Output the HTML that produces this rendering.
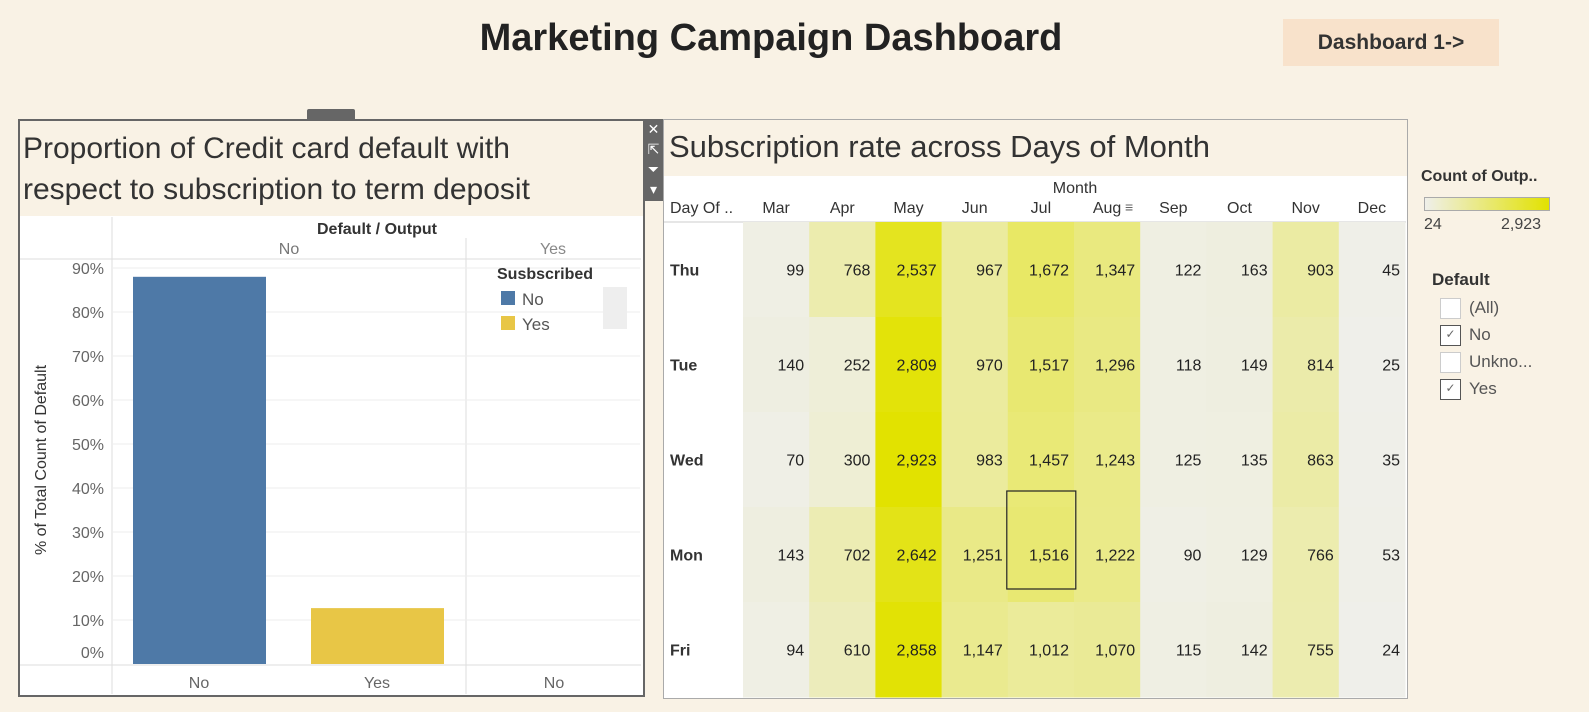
<!DOCTYPE html>
<html><head><meta charset="utf-8"><style>
body{margin:0;width:1589px;height:712px;background:#f9f2e5;font-family:"Liberation Sans",sans-serif;position:relative;overflow:hidden;color:#333}
.abs{position:absolute}
</style></head><body>
<div class="abs" style="left:0;width:1542px;top:17px;text-align:center;font-size:38px;font-weight:bold;color:#222">Marketing Campaign Dashboard</div>
<div class="abs" style="left:1283px;top:19px;width:216px;height:47px;background:#f8e2cb;font-size:21px;font-weight:bold;line-height:47px;text-align:center;color:#333">Dashboard 1-&gt;</div>

<div class="abs" style="left:307px;top:109px;width:48px;height:11px;background:#666;border-radius:2px 2px 0 0"></div>
<div class="abs" style="left:18px;top:119px;width:623px;height:574px;border:2px solid #666;background:#fff"></div>
<div class="abs" style="left:20px;top:121px;width:623px;height:95px;background:#f9f2e5;"></div>
<div class="abs" style="left:23px;top:128px;width:570px;font-size:30px;line-height:41px;color:#333">Proportion of Credit card default with respect to subscription to term deposit</div>
<div class="abs" style="left:643px;top:119px;width:21px;height:82px;background:#666;color:#fff;font-size:14px;text-align:center;line-height:20px">✕<br>⇱<br>⏷<br>▾</div>
<svg class="abs" style="left:0;top:0" width="1589" height="712" id="bar-svg"></svg>

<div class="abs" style="left:663px;top:119px;width:743px;height:578px;border:1px solid #aaa;background:#fff"></div>
<div class="abs" style="left:664px;top:120px;width:743px;height:56px;background:#f9f2e5;font-size:31px;padding:9px 0 0 5px;box-sizing:border-box;color:#333;white-space:nowrap">Subscription rate across Days of Month</div>
<svg class="abs" style="left:0;top:0" width="1589" height="712" id="heat-svg"></svg>

<div class="abs" style="left:1421px;top:168px;font-size:16px;font-weight:bold;color:#333">Count of Outp..</div>
<div class="abs" style="left:1424px;top:197px;width:124px;height:12px;border:1px solid #aaa;background:linear-gradient(to right,#efefea,#e2e200)"></div>
<div class="abs" style="left:1424px;top:216px;font-size:16px;color:#444">24</div>
<div class="abs" style="left:1501px;top:216px;font-size:16px;color:#444">2,923</div>
<div class="abs" style="left:1432px;top:270px;font-size:17px;font-weight:bold;color:#333">Default</div>
<div id="filters"></div>

<script>
// ---- bar chart data ----
const barCats=["No","Yes"];
const barVals=[88,12.7];
const barColors=["#4e79a7","#e8c646"];
const yTicks=[0,10,20,30,40,50,60,70,80,90];
const NS="http://www.w3.org/2000/svg";
function mk(svg,tag,attrs,text){const e=document.createElementNS(NS,tag);for(const k in attrs)e.setAttribute(k,attrs[k]);if(text!==undefined)e.textContent=text;svg.appendChild(e);return e;}
const bs=document.getElementById('bar-svg');
const base=664, pxPer=4.4;
function yS(v){return base-v*pxPer;}
mk(bs,'line',{x1:112,y1:217,x2:112,y2:694,stroke:'#ddd'});
mk(bs,'line',{x1:466,y1:238,x2:466,y2:694,stroke:'#ddd'});
mk(bs,'line',{x1:20,y1:259,x2:641,y2:259,stroke:'#ddd'});
mk(bs,'line',{x1:20,y1:665,x2:641,y2:665,stroke:'#ddd'});
let t=mk(bs,'text',{x:377,y:234,'text-anchor':'middle','font-size':16,'font-weight':'bold',fill:'#333','font-family':'Liberation Sans'},'Default / Output');

t=mk(bs,'text',{x:289,y:254,'text-anchor':'middle','font-size':16,fill:'#777','font-family':'Liberation Sans'},'No');

t=mk(bs,'text',{x:553,y:254,'text-anchor':'middle','font-size':16,fill:'#888','font-family':'Liberation Sans'},'Yes');

yTicks.forEach(v=>{
  const y=yS(v);
  if(v>0){const g=mk(bs,'line',{x1:113,x2:640,y1:y,y2:y,stroke:'#eee'});}
  const ly=v===0?658:y+6;
  const l=mk(bs,'text',{x:104,y:ly,'text-anchor':'end','font-size':16,fill:'#666','font-family':'Liberation Sans'},v+'%');
  
  
});
t=mk(bs,'text',{x:46,y:460,'text-anchor':'middle','font-size':16,fill:'#333','font-family':'Liberation Sans',transform:'rotate(-90 46 460)'},'% of Total Count of Default');

const barX=[133,311];
barCats.forEach((c,i)=>{
  const r=mk(bs,'rect',{x:barX[i],y:yS(barVals[i]),width:133,height:barVals[i]*pxPer,fill:barColors[i]});
  
  
  const l=mk(bs,'text',{x:barX[i]+66,y:688,'text-anchor':'middle','font-size':16,fill:'#666','font-family':'Liberation Sans'},c);
  
  
});
t=mk(bs,'text',{x:554,y:688,'text-anchor':'middle','font-size':16,fill:'#666','font-family':'Liberation Sans'},'No');

t=mk(bs,'text',{x:497,y:279,'font-size':16,'font-weight':'bold',fill:'#333','font-family':'Liberation Sans'},'Susbscribed');

barCats.forEach((c,i)=>{
  const r=mk(bs,'rect',{x:501,y:291+i*25,width:14,height:14,fill:barColors[i]});
  
  
  const l=mk(bs,'text',{x:522,y:305+i*25,'font-size':17,fill:'#555','font-family':'Liberation Sans'},c);
  
  
});
mk(bs,'rect',{x:603,y:287,width:24,height:42,fill:'#eee'});

// ---- heatmap data ----
const months=["Mar","Apr","May","Jun","Jul","Aug","Sep","Oct","Nov","Dec"];
const days=["Thu","Tue","Wed","Mon","Fri"];
const rowThu=[99,768,2537,967,1672,1347,122,163,903,45];
const rowTue=[140,252,2809,970,1517,1296,118,149,814,25];
const rowWed=[70,300,2923,983,1457,1243,125,135,863,35];
const rowMon=[143,702,2642,1251,1516,1222,90,129,766,53];
const rowFri=[94,610,2858,1147,1012,1070,115,142,755,24];
const rows=[rowThu,rowTue,rowWed,rowMon,rowFri];
const hs=document.getElementById('heat-svg');
const x0=743,cw=66.2,y0=222,rh=95,vmin=24,vmax=2923;
function col(v){const f=(v-vmin)/(vmax-vmin);const lo=[239,239,234],hi=[226,226,0];
 return 'rgb('+lo.map((a,i)=>Math.round(a+(hi[i]-a)*f)).join(',')+')';}
function fmt(v){return v.toLocaleString('en-US');}
mk(hs,'line',{x1:664,x2:1406,y1:y0,y2:y0,stroke:'#ccc'});
t=mk(hs,'text',{x:1075,y:193,'text-anchor':'middle','font-size':16,fill:'#333','font-family':'Liberation Sans'},'Month');

t=mk(hs,'text',{x:670,y:213,'font-size':16,fill:'#333','font-family':'Liberation Sans'},'Day Of ..');

t=mk(hs,'text',{x:1125,y:212,'font-size':14,fill:'#666','font-family':'Liberation Sans'},'≡');

months.forEach((m,j)=>{
  const l=mk(hs,'text',{x:x0+cw*j+cw/2,y:213,'text-anchor':'middle','font-size':16,fill:'#333','font-family':'Liberation Sans'},m);
  
  
});
days.forEach((d,i)=>{
  const l=mk(hs,'text',{x:670,y:y0+rh*i+rh/2+6,'font-size':16,'font-weight':'bold',fill:'#333','font-family':'Liberation Sans'},d);
  
  
  rows[i].forEach((v,j)=>{
    const r=mk(hs,'rect',{x:x0+cw*j,y:y0+rh*i,width:cw+0.5,height:rh+0.5,fill:col(v)});
    
    
    const tx=mk(hs,'text',{x:x0+cw*(j+1)-5,y:y0+rh*i+rh/2+6,'text-anchor':'end','font-size':16,fill:'#222','font-family':'Liberation Sans'},fmt(v));
    
    
  });
});
t=mk(hs,'rect',{x:x0+cw*4-1,y:y0+rh*3-16,width:69,height:98,fill:'none',stroke:'#222','stroke-width':1.2});


// ---- filter ----
const fItems=["(All)","No","Unkno...","Yes"];
const fChecked=[false,true,false,true];
const fc=document.getElementById('filters');
fItems.forEach((s,i)=>{
  const d=document.createElement('div');
  d.className='abs';
  d.style.cssText='left:1440px;top:'+(297+i*27)+'px;font-size:17px;color:#555;height:22px;line-height:22px';
  d.innerHTML='<span style="display:inline-block;width:19px;height:19px;border:1px solid '+(fChecked[i]?'#555':'#ccc')+';background:#fff;vertical-align:middle;margin-right:8px;font-size:12px;line-height:16px;text-align:center;color:#666">'+(fChecked[i]?'✓':'')+'</span>'+s;
  
  
  fc.appendChild(d);
});
</script>
</body></html>
